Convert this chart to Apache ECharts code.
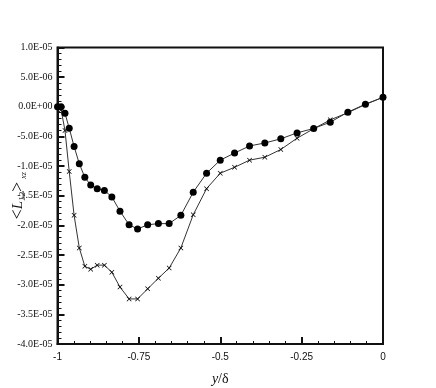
<!DOCTYPE html>
<html>
<head>
<meta charset="utf-8">
<script src="https://cdn.jsdelivr.net/npm/echarts@6/dist/echarts.min.js"></script>
<style>
  html, body { margin: 0; padding: 0; background: #fff; }
  #main { width: 436px; height: 388px; }
</style>
</head>
<body>
<div id="main"></div>
<script>
// y/delta positions shared by both profiles
const yDelta = [-1, -0.989, -0.977, -0.964, -0.949, -0.933, -0.916, -0.898, -0.878, -0.856,
  -0.833, -0.808, -0.780, -0.754, -0.723, -0.690, -0.657, -0.621, -0.583, -0.542,
  -0.500, -0.456, -0.410, -0.363, -0.314, -0.264, -0.213, -0.162, -0.108, -0.054, 0]

// <L12>xz, filled circles
const circleVals = [0, 0, -1.1e-6, -3.6e-6, -6.7e-6, -9.6e-6, -1.19e-5, -1.32e-5, -1.38e-5, -1.41e-5,
  -1.52e-5, -1.76e-5, -1.99e-5, -2.06e-5, -1.99e-5, -1.97e-5, -1.97e-5, -1.83e-5, -1.44e-5, -1.12e-5,
  -9.0e-6, -7.8e-6, -6.6e-6, -6.1e-6, -5.4e-6, -4.4e-6, -3.65e-6, -2.6e-6, -9e-7, 4.5e-7, 1.6e-6]

// <L12>xz, crosses
const crossVals = [0, -5e-7, -4.0e-6, -1.09e-5, -1.83e-5, -2.38e-5, -2.69e-5, -2.74e-5, -2.67e-5, -2.67e-5,
  -2.79e-5, -3.04e-5, -3.24e-5, -3.24e-5, -3.07e-5, -2.89e-5, -2.72e-5, -2.38e-5, -1.82e-5, -1.38e-5,
  -1.12e-5, -1.02e-5, -9.0e-6, -8.5e-6, -7.2e-6, -5.3e-6, -3.7e-6, -2.2e-6, -1.0e-6, 4e-7, 1.6e-6]

const xTicks = { min: -1, max: 0, step: 0.25 }
const yTicks = { min: -4e-5, max: 1e-5, step: 5e-6 }

const serif = 'Liberation Serif'
const sans = 'Liberation Sans'
const crossPath = 'path://M0,1L1,0L5,4L9,0L10,1L6,5L10,9L9,10L5,6L1,10L0,9L4,5Z'

function sciLabel(v) {
  // 1.0E-05 style
  const s = v.toExponential(1).split('e')
  let exp = parseInt(s[1], 10)
  const sign = exp < 0 ? '-' : '+'
  exp = Math.abs(exp)
  return s[0] + 'E' + sign + (exp < 10 ? '0' + exp : exp)
}

var myChart = echarts.init(document.getElementById('main'))
myChart.setOption({
  backgroundColor: '#fff',
  animation: false,
  grid: {
    left: 57.5, right: 53, top: 47.5, bottom: 44,
    outerBoundsMode: 'none',
    containLabel: false,
    show: true, borderColor: '#111', borderWidth: 2, backgroundColor: 'transparent'
  },
  xAxis: {
    type: 'value',
    min: xTicks.min, max: xTicks.max, interval: xTicks.step,
    name: '{i|y}{n|/δ}',
    nameLocation: 'middle',
    nameGap: 28,
    nameMoveOverlap: false,
    nameTextStyle: {
      rich: {
        i: { fontFamily: serif, fontStyle: 'italic', fontSize: 14, color: '#111' },
        n: { fontFamily: serif, fontSize: 14, color: '#111' }
      }
    },
    axisLine: { show: true, onZero: false, lineStyle: { color: '#111', width: 2 } },
    axisTick: { inside: true, length: 7, lineStyle: { color: '#111', width: 2 } },
    minorTick: { show: true, splitNumber: 5, length: 3, lineStyle: { color: '#111', width: 1 } },
    splitLine: { show: false },
    axisLabel: {
      fontFamily: sans, fontSize: 10, color: '#111', margin: 8,
      formatter: v => String(Math.round(v * 100) / 100)
    }
  },
  yAxis: {
    type: 'value',
    min: yTicks.min, max: yTicks.max, interval: yTicks.step,
    name: '{b|<}{L|L}{s|12}{b|>}{x|xz}',
    nameLocation: 'middle',
    nameRotate: 90,
    nameGap: 30,
    nameMoveOverlap: false,
    nameTextStyle: {
      rich: {
        b: { fontFamily: serif, fontSize: 18, color: '#111', verticalAlign: 'middle' },
        L: { fontFamily: serif, fontStyle: 'italic', fontSize: 15, color: '#111', verticalAlign: 'middle' },
        s: { fontFamily: serif, fontStyle: 'italic', fontSize: 9, color: '#111', verticalAlign: 'bottom' },
        x: { fontFamily: serif, fontStyle: 'italic', fontSize: 8, color: '#111', verticalAlign: 'bottom', padding: [0, 0, 0, 3] }
      }
    },
    axisLine: { show: true, onZero: false, lineStyle: { color: '#111', width: 2 } },
    axisTick: { inside: true, length: 7, lineStyle: { color: '#111', width: 2 } },
    minorTick: { show: true, splitNumber: 5, length: 4, lineStyle: { color: '#111', width: 1 } },
    splitLine: { show: false },
    axisLabel: {
      fontFamily: serif, fontSize: 10, color: '#111', margin: 5,
      formatter: sciLabel
    }
  },
  series: [{
    name: 'circles',
    type: 'line',
    data: yDelta.map((x, i) => [x, circleVals[i]]),
    symbol: 'circle',
    symbolSize: 7,
    itemStyle: { color: '#000' },
    lineStyle: { color: '#333', width: 1 },
    z: 3
  }, {
    name: 'crosses',
    type: 'line',
    data: yDelta.map((x, i) => [x, crossVals[i]]),
    symbol: crossPath,
    symbolSize: 5,
    itemStyle: { color: '#000' },
    lineStyle: { color: '#333', width: 1 },
    z: 2
  }]
})
</script>
</body>
</html>
